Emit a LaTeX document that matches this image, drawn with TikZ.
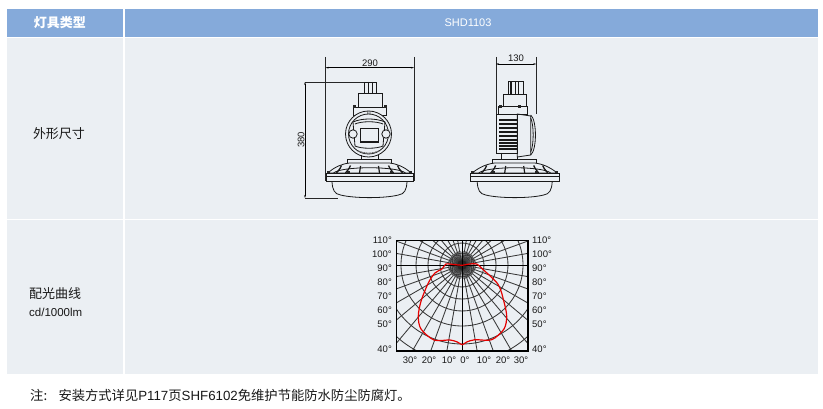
\documentclass[tikz,border=0pt]{standalone}
\usepackage{fontspec}
\setmainfont{Liberation Sans}
\newfontfamily\cjk{Noto Sans CJK SC}
\usetikzlibrary{arrows.meta}
\definecolor{headblue}{RGB}{133,170,218}
\definecolor{bandgrey}{RGB}{235,239,243}
\definecolor{inkgrey}{RGB}{25,25,25}
\tikzset{
  headcell/.style={fill=headblue, draw=none},
  bandcell/.style={fill=bandgrey, draw=none},
  headtext/.style={text=white, font=\fontsize{13}{15}\selectfont\cjk\bfseries},
  celltext/.style={text=inkgrey, font=\fontsize{13}{15}\selectfont\cjk},
  dimtext/.style={text=inkgrey, font=\fontsize{9.5}{11}\selectfont, inner sep=0pt},
  anglabel/.style={text=inkgrey, font=\fontsize{9.5}{11}\selectfont, inner sep=0pt},
  dimline/.style={line width=0.4pt, {Stealth[length=3pt,width=1.6pt]}-{Stealth[length=3pt,width=1.6pt]}},
  extline/.style={line width=0.55pt, black!85},
  lampline/.style={line width=0.8pt, black!90},
  gridline/.style={line width=0.85pt, black!78},
  redcurve/.style={line width=1.2pt, red!90!black},
}
\begin{document}
\begin{tikzpicture}[x=1pt,y=-1pt]
  \useasboundingbox (0,0) rectangle (823,409);
  \fill[white] (0,0) rectangle (823,409);
  % table cells
  \fill[headcell] (7,9) rectangle (123,37);
  \fill[headcell] (124.5,9) rectangle (818,37);
  \fill[bandcell] (7,38) rectangle (123,219);
  \fill[bandcell] (124.5,38) rectangle (818,219);
  \fill[bandcell] (7,220) rectangle (123,374);
  \fill[bandcell] (124.5,220) rectangle (818,374);
  \node[headtext] (headtype) at (60,23) {灯具类型};
  \node[text=white, font=\fontsize{11}{14}\selectfont] (headmodel) at (468,23) {SHD1103};
  \node[celltext] (rowsize) at (59,134) {外形尺寸};
  \node[celltext, anchor=west, inner sep=0pt] (rowcurve) at (29,294) {配光曲线};
  \node[celltext, anchor=west, inner sep=0pt, font=\fontsize{11.5}{14}\selectfont] (rowunit) at (29,312) {cd/1000lm};
  \node[celltext, anchor=west, inner sep=0pt, font=\fontsize{13.3}{15}\selectfont\cjk] (note) at (30,395)
    {注:\hspace{0.85em}安装方式详见{\rmfamily P117}页{\rmfamily SHF6102}免维护节能防水防尘防腐灯。};

  % front view
  \coordinate (wl) at (325.5,67.7);
  \coordinate (wr) at (414,67.7);
  \coordinate (wlt) at (325.5,57);
  \coordinate (wlb) at (325.5,181);
  \coordinate (wrt) at (414,57);
  \coordinate (wrb) at (414,181);
  \draw[extline] (wlt) -- (wlb);
  \draw[extline] (wrt) -- (wrb);
  \draw[dimline] (wl) -- (wr);
  \node[dimtext] (wlabel) at (370,63) {290};
  \coordinate (ht) at (305,82);
  \coordinate (hb) at (305,198);
  \coordinate (htr) at (364,82);
  \coordinate (hbr) at (338,198);
  \draw[extline] (ht) -- (htr);
  \draw[extline] (hb) -- (hbr);
  \draw[dimline] (ht) -- (hb);
  \node[dimtext, rotate=90] (hlabel) at (301,140) {380};

  \draw[lampline] (364,82) rectangle (376,93);
  \draw[lampline] (368,82) -- (368,93);
  \draw[lampline] (372,82) -- (372,93);
  \draw[lampline] (358,93) rectangle (382,107);
  \draw[lampline] (353.5,107) rectangle (386.5,115);
  \fill[black!85] (353,105.5) rectangle (356,108);
  \fill[black!85] (384,105.5) rectangle (387,108);
  \filldraw[lampline, fill=bandgrey] (368.5,134) circle (23);
  \draw[lampline] (368.5,134) circle (20);
  \draw[lampline] (353,122) .. controls (362,118) and (376,118) .. (385,122) -- (383,146) .. controls (376,149) and (362,149) .. (355,146) -- cycle;
  \draw[lampline] (355,124) .. controls (362,121) and (376,121) .. (383,124);
  \draw[line width=1.2pt, black!90] (360.7,128.5) rectangle (378.7,142);
  \filldraw[lampline, fill=bandgrey] (353,134) circle (4.2);
  \filldraw[lampline, fill=bandgrey] (386,134) circle (4.2);
  \node[inner sep=0pt, text=black!85, font=\fontsize{3.5}{4}\selectfont] (exmark) at (369,113.5) {Ex};
  \draw[line width=1.2pt, black!60, dash pattern=on 1pt off 0.6pt] (358,151) .. controls (364,154) and (373,154) .. (379,151);
  \draw[lampline] (361,159) -- (361,155);
  \draw[lampline] (378,159) -- (378,155);

  % side view
  \coordinate (dl) at (496,64);
  \coordinate (dr) at (536.3,64);
  \coordinate (dlt) at (496,57);
  \coordinate (dlb) at (496,114);
  \coordinate (drt) at (536.3,57);
  \coordinate (drb) at (536.3,114);
  \draw[extline] (dlt) -- (dlb);
  \draw[extline] (drt) -- (drb);
  \draw[dimline] (dl) -- (dr);
  \node[dimtext] (dlabel) at (516,58) {130};

  \draw[lampline] (508.7,81.7) rectangle (523.3,94);
  \draw[line width=1.2pt, black!90] (511,81.7) -- (511,94);
  \draw[lampline] (515,81.7) -- (515,94);
  \draw[line width=1.2pt, black!90] (518.5,81.7) -- (518.5,94);
  \draw[lampline] (503,94) rectangle (526,106.7);
  \draw[lampline] (498,106.7) rectangle (527,114);
  \fill[black!85] (499,105) rectangle (502,108);
  \fill[black!85] (518,105) rectangle (521,108);
  \draw[lampline] (496,114) rectangle (517.3,153);
  \foreach \fy in {120,124,128,132,136,140,143,146,149}
    \draw[line width=1.2pt, black!90] (499,\fy) -- (517.3,\fy);
  \draw[lampline] (517.3,114) -- (530.7,116) -- (530.7,155) -- (517.3,157) -- cycle;
  \draw[lampline] (530.7,115) .. controls (537,120) and (537,150) .. (530.7,155);
  \draw[lampline] (530.7,118) .. controls (534,125) and (534,145) .. (530.7,152);
  \draw[lampline] (501.7,153) -- (501.7,160);
  \draw[lampline] (517.3,157) -- (517.3,160);

  % dome, rim and lens of both views
  \foreach \cx/\rw in {369.5/43.6,514.7/44.6} {
    \begin{scope}[shift={(\cx,0)}]
      \draw[lampline] (-22,159) rectangle (22,163);
      \filldraw[lampline, fill=bandgrey] (-\rw+2,173) .. controls (-35,167) and (-28,164) .. (-20,163) -- (20,163) .. controls (28,164) and (35,167) .. (\rw-2,173) -- cycle;
      \draw[lampline] (-36,173) .. controls (-28,166) and (28,166) .. (36,173);
      \foreach \rx/\ex in {-9/-10,9/10}
        \draw[line width=1.2pt, black!90] (\rx,166) -- (\ex,173);
      \foreach \rx/\ex in {-19/-24,19/24,-28/-33,28/33}
        \draw[line width=1.3pt, black!90] (\rx,165.5) .. controls ({\rx+0.2*(\ex-\rx)},168) .. (\ex,173);
      \fill[black!85] (-23,171.5) rectangle (-20,174);
      \fill[black!85] (20,171.5) rectangle (23,174);
      \fill[black!85] (-\rw+1,171) rectangle (-\rw+4,174);
      \fill[black!85] (\rw-4,171) rectangle (\rw-1,174);
      \filldraw[lampline, fill=bandgrey] (-\rw,173) rectangle (\rw,181.8);
      \draw[lampline] (-\rw,176) -- (\rw,176);
      \draw[lampline] (-37.5,181.8) .. controls (-37,190) and (-35,194) .. (-29,195)
        .. controls (-15,198.5) and (15,198.5) .. (29,195)
        .. controls (35,194) and (37,190) .. (37.5,181.8);
    \end{scope}
  }

  % light distribution chart
  \begin{scope}
    \clip (396.5,240.5) rectangle (528,351);
    \foreach \rad in {12,22,34,46,61,79,97}
      \draw[gridline] (462,265) circle (\rad);
    \foreach \ang in {0,10,...,350}
      \draw[gridline] (462,265) -- ++(\ang:115);
    \foreach \ang in {5,15,...,355}
      \draw[gridline, line width=0.6pt] (462,265) -- ++(\ang:14);
    \fill[black!85] (462,265) circle (5);
  \end{scope}
  \draw[line width=0.8pt, black] (396.5,265) -- (528,265);
  \draw[line width=0.8pt, black] (462,240.5) -- (462,351);
  \draw[line width=1.1pt, black] (396.5,240.5) rectangle (528,351);
  \draw[redcurve] plot[smooth] coordinates {(462.3,265.3) (455,264.7) (446,264) (442.3,268.7) (435,273) (428.3,283) (421,301.3) (418.3,316.3) (421,329) (434,340) (450,340) (457.3,342) (462.3,344.7) (466.7,342) (475,339.7) (491.7,339.7) (504,329) (506.7,316.3) (504,302) (498.3,284.7) (483.3,269.7) (476.7,264) (470,264) (462.3,265.3)};

  \foreach \lab/\ly in {110/240,100/254.7,90/268,80/282,70/296,60/310,50/324,40/349} {
    \node[anglabel, anchor=east] (ang\lab l) at (392,\ly) {\lab°};
    \node[anglabel, anchor=west] (ang\lab r) at (532,\ly) {\lab°};
  }
  \foreach \lab/\lx [count=\i] in {30/410,20/429,10/449,0/465,10/484,20/503,30/521}
    \node[anglabel] (bot\i) at (\lx,360) {\lab°};
\end{tikzpicture}
\end{document}
